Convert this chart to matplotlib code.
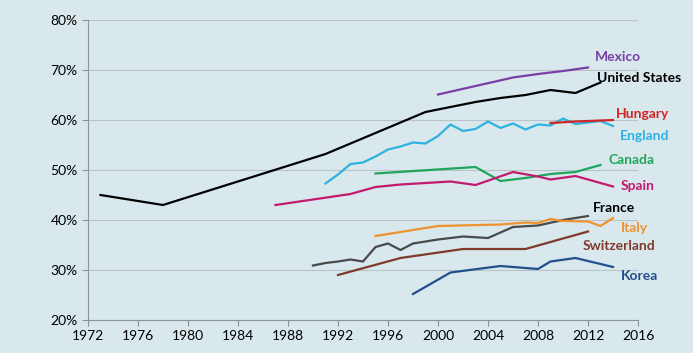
import matplotlib.pyplot as plt

# data (share in %)
us_years = [1973, 1978, 1991, 1999, 2003, 2005, 2007, 2009, 2011, 2013]
us_vals = [45.0, 43.0, 53.2, 61.6, 63.6, 64.4, 65.0, 66.0, 65.4, 67.5]

mexico_years = [2000, 2006, 2008, 2010, 2012]
mexico_vals = [65.1, 68.5, 69.2, 69.8, 70.5]

hungary_years = [2009, 2011, 2014]
hungary_vals = [59.4, 59.7, 60.0]

england_years = [1991, 1992, 1993, 1994, 1995, 1996, 1997, 1998, 1999, 2000,
                 2001, 2002, 2003, 2004, 2005, 2006, 2007, 2008, 2009, 2010,
                 2011, 2012, 2013, 2014]
england_vals = [47.3, 49.1, 51.2, 51.5, 52.7, 54.1, 54.7, 55.5, 55.3, 56.8,
                59.1, 57.8, 58.2, 59.7, 58.4, 59.3, 58.1, 59.1, 58.9, 60.3,
                59.2, 59.5, 59.8, 58.8]

canada_years = [1995, 2003, 2005, 2007, 2009, 2011, 2013]
canada_vals = [49.3, 50.6, 47.8, 48.4, 49.2, 49.6, 51.0]

spain_years = [1987, 1993, 1995, 1997, 1999, 2001, 2003, 2006, 2008, 2009, 2011, 2014]
spain_vals = [43.0, 45.2, 46.6, 47.1, 47.4, 47.7, 47.0, 49.6, 48.7, 48.1, 48.8, 46.7]

france_years = [1990, 1991, 1992, 1993, 1994, 1995, 1996, 1997, 1998, 2000,
                2002, 2004, 2006, 2008, 2010, 2012]
france_vals = [30.9, 31.4, 31.7, 32.1, 31.7, 34.6, 35.3, 34.0, 35.3, 36.1,
               36.7, 36.4, 38.6, 38.9, 40.0, 40.8]

italy_years = [1995, 2000, 2005, 2007, 2008, 2009, 2010, 2012, 2013, 2014]
italy_vals = [36.8, 38.8, 39.1, 39.5, 39.4, 40.2, 39.8, 39.7, 38.8, 40.4]

swiss_years = [1992, 1997, 2002, 2007, 2012]
swiss_vals = [29.0, 32.4, 34.2, 34.2, 37.7]

korea_years = [1998, 2001, 2005, 2008, 2009, 2011, 2014]
korea_vals = [25.2, 29.5, 30.8, 30.2, 31.7, 32.4, 30.6]

bg = "#d9e8ec"
plt.rcParams['font.family'] = ['Lato', 'DejaVu Sans']

fig = plt.figure(figsize=(6.93, 3.53), dpi=100, facecolor=bg)
ax = fig.add_axes([88 / 693, 1 - 320 / 353, 550 / 693, 300 / 353])
ax.set_facecolor(bg)

lw = 1.6
ax.plot(us_years, us_vals, color="black", lw=lw)
ax.plot(mexico_years, mexico_vals, color="#7a3fa6", lw=lw)
ax.plot(england_years, england_vals, color="#2eb2e2", lw=lw)
ax.plot(hungary_years, hungary_vals, color="#d12424", lw=lw)
ax.plot(canada_years, canada_vals, color="#1fa55c", lw=lw)
ax.plot(spain_years, spain_vals, color="#c21a6e", lw=lw)
ax.plot(france_years, france_vals, color="#4a4a4a", lw=lw)
ax.plot(italy_years, italy_vals, color="#f0922e", lw=lw)
ax.plot(swiss_years, swiss_vals, color="#7e3b2c", lw=lw)
ax.plot(korea_years, korea_vals, color="#214f8d", lw=lw)

# series labels
lab = dict(fontsize=10, fontweight="bold", ha="center", va="center")
ax.text(2014.4, 72.6, "Mexico", color="#7a3fa6", **lab)
ax.text(2016.1, 68.4, "United States", color="black", **lab)
ax.text(2016.4, 61.1, "Hungary", color="#d12424", **lab)
ax.text(2016.5, 56.9, "England", color="#2eb2e2", **lab)
ax.text(2015.5, 51.9, "Canada", color="#1fa55c", **lab)
ax.text(2016.0, 46.9, "Spain", color="#c21a6e", **lab)
ax.text(2014.1, 42.3, "France", color="black", **lab)
ax.text(2015.7, 38.4, "Italy", color="#f0922e", **lab)
ax.text(2014.5, 34.7, "Switzerland", color="#7e3b2c", **lab)
ax.text(2016.1, 28.7, "Korea", color="#214f8d", **lab)

ax.set_xlim(1972, 2016)
ax.set_ylim(20, 80)
ax.set_xticks(range(1972, 2017, 4))
ax.set_yticks(range(20, 81, 10))
ax.set_yticklabels([f"{v}%" for v in range(20, 81, 10)])
ax.grid(axis="y", color="#b8c4c8", lw=0.8)
ax.set_axisbelow(True)
for s in ["top", "right"]:
    ax.spines[s].set_visible(False)
for s in ["left", "bottom"]:
    ax.spines[s].set_color("#8a9498")
ax.tick_params(colors="#8a9498", labelcolor="black", labelsize=10, length=4)
for t in ax.texts:
    t.set_clip_on(False)

fig.savefig("out.png", dpi=100, facecolor=bg)
